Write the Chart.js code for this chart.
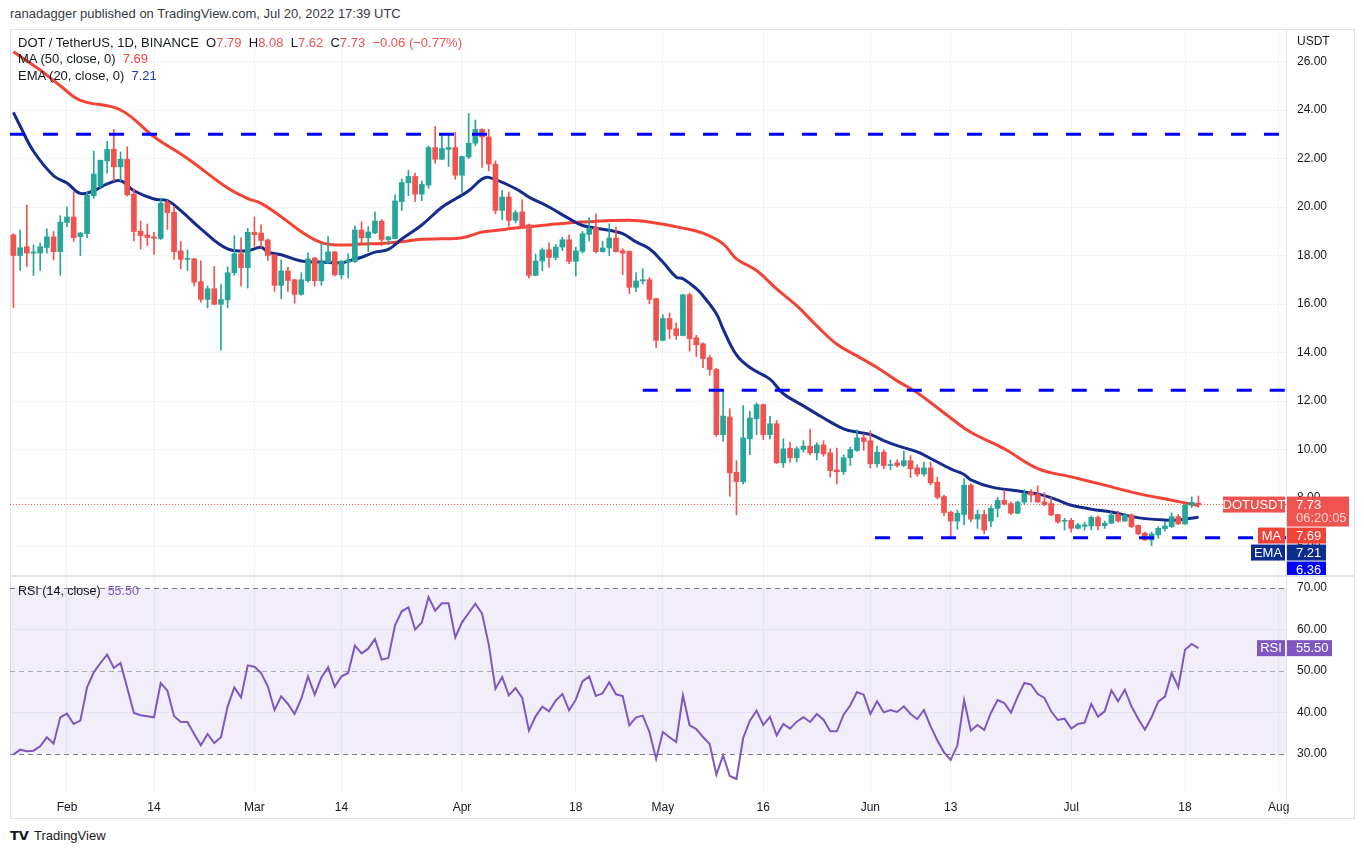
<!DOCTYPE html>
<html>
<head>
<meta charset="utf-8">
<script src="https://cdn.jsdelivr.net/npm/chart.js@4.4.0/dist/chart.umd.min.js"></script>
<style>
body { margin: 0; background: #fff; font-family: 'Liberation Sans', Arial, sans-serif; color: #131722; }
#page { position: relative; width: 1364px; height: 854px; overflow: hidden; }
.abs { position: absolute; white-space: nowrap; }
canvas { position: absolute; }
.red { color: #ef5350; }
</style>
</head>
<body>
<div id="page">
  <div class="abs" style="left:10px;top:6px;font-size:13px;color:#363a45">ranadagger published on TradingView.com, Jul 20, 2022 17:39 UTC</div>
  <div class="abs" style="left:10px;top:29px;width:1345px;height:790px;border:1px solid #e0e3eb;box-sizing:border-box"></div>

  <canvas id="priceChart" width="1344" height="546" style="left:10px;top:30px"></canvas>
  <canvas id="rsiChart" width="1344" height="241" style="left:10px;top:577px"></canvas>

  <div class="abs" style="left:10px;top:575px;width:1345px;height:2px;background:#e0e3eb"></div>
  <div class="abs" style="left:1286px;top:30px;width:1px;height:788px;background:#e0e3eb"></div>

  <div class="abs" style="left:18px;top:35px;font-size:13px">DOT / TetherUS, 1D, BINANCE&nbsp; O<span class="red">7.79</span>&nbsp; H<span class="red">8.08</span>&nbsp; L<span class="red">7.62</span>&nbsp; C<span class="red">7.73</span>&nbsp; <span class="red">−0.06 (−0.77%)</span></div>
  <div class="abs" style="left:18px;top:51px;font-size:13px">MA (50, close, 0)&nbsp; <span style="color:#f44336">7.69</span></div>
  <div class="abs" style="left:18px;top:68px;font-size:13px">EMA (20, close, 0)&nbsp; <span style="color:#1c3aa8">7.21</span></div>
  <div class="abs" style="left:1297px;top:34px;font-size:12px">USDT</div>
  <div class="abs" style="left:18px;top:584px;font-size:12.5px">RSI (14, close)&nbsp; <span style="color:#7e57c2">55.50</span></div>

  <div class="abs" style="left:10px;top:828px;font-size:13px;font-weight:bold;font-family:'DejaVu Sans'">TV</div>
  <div class="abs" style="left:34px;top:828px;font-size:13px;color:#131722">TradingView</div>
</div>

<script>
// days counted from Jan 24, 2022 (day 0) to Jul 20, 2022 (day 177)
const opens = [
  18.85, 18.0, 18.36, 18.1, 18.1, 18.33, 18.77, 18.16, 19.36, 19.59,
  18.78, 18.9, 20.47, 20.88, 21.9, 22.38, 21.66, 21.97, 20.53, 19.0,
  18.85, 18.77, 18.7, 20.19, 19.78, 18.19, 17.84, 17.86, 16.92, 16.19,
  16.63, 15.99, 16.17, 17.29, 18.07, 17.5, 18.96, 18.92, 18.64, 18.03,
  16.77, 17.36, 17.0, 16.4, 16.96, 17.9, 16.96, 17.7, 18.15, 17.2,
  17.73, 17.75, 19.05, 18.73, 18.93, 19.42, 18.66, 18.7, 20.22, 21.0,
  21.26, 20.53, 20.9, 22.45, 21.97, 22.38, 22.45, 21.31, 22.06, 22.63,
  23.2, 22.89, 21.77, 19.86, 20.41, 19.45, 19.8, 19.27, 17.18, 17.77,
  18.24, 17.92, 18.35, 18.65, 17.76, 18.17, 18.87, 19.15, 18.16, 18.31,
  18.72, 18.2, 18.17, 16.69, 16.95, 17.0, 16.22, 14.5, 15.4, 14.98,
  14.7, 16.38, 14.61, 14.36, 13.79, 13.3, 10.61, 11.34, 9.06, 8.67,
  10.44, 11.27, 11.85, 10.61, 11.06, 9.45, 10.05, 9.66, 10.0, 10.14,
  9.86, 10.19, 9.86, 9.16, 9.08, 9.66, 9.96, 10.48, 10.36, 9.41,
  9.89, 9.34, 9.45, 9.34, 9.54, 9.24, 8.99, 9.24, 8.65, 8.06,
  7.42, 7.05, 7.32, 8.53, 7.13, 7.32, 7.05, 7.57, 7.9, 7.77,
  7.37, 7.83, 8.23, 8.16, 7.84, 7.77, 7.32, 7.04, 7.08, 6.75,
  6.83, 6.85, 7.2, 6.86, 6.96, 7.32, 7.05, 7.3, 6.87, 6.55,
  6.27, 6.48, 6.74, 6.82, 7.23, 6.93, 7.71, 7.79
];
const highs = [
  18.9, 19.05, 20.08, 18.44, 18.52, 19.1, 18.99, 19.64, 20.0, 20.63,
  18.95, 20.6, 22.3, 21.93, 22.71, 23.2, 22.27, 22.49, 20.74, 19.42,
  19.3, 18.96, 20.36, 20.27, 20.03, 18.58, 18.23, 17.89, 17.78, 16.74,
  17.55, 16.8, 17.53, 18.82, 18.73, 19.12, 19.59, 19.26, 18.68, 18.05,
  17.82, 17.52, 17.02, 17.29, 18.11, 17.92, 18.5, 18.78, 18.17, 17.79,
  18.07, 19.22, 19.4, 19.2, 19.8, 19.48, 18.79, 20.5, 21.15, 21.52,
  21.4, 21.07, 22.52, 23.33, 22.96, 23.0, 23.08, 22.1, 23.86, 23.59,
  23.22, 23.2, 21.9, 20.69, 20.62, 19.85, 20.3, 19.3, 18.06, 18.31,
  18.52, 18.45, 18.76, 18.85, 18.34, 19.0, 19.56, 19.72, 18.58, 19.31,
  19.17, 18.28, 18.19, 17.29, 17.46, 17.09, 16.24, 15.56, 15.63, 15.22,
  16.4, 16.45, 14.71, 14.4, 13.88, 13.35, 12.48, 11.68, 9.54, 11.81,
  11.57, 11.92, 11.88, 11.37, 11.2, 10.44, 10.3, 10.11, 10.36, 10.83,
  10.28, 10.36, 10.03, 10.06, 9.79, 10.1, 10.81, 10.65, 10.76, 10.14,
  9.99, 9.57, 9.57, 9.94, 9.75, 9.37, 9.48, 9.48, 8.86, 8.12,
  7.47, 7.5, 8.8, 8.59, 7.5, 7.49, 7.68, 8.03, 8.33, 7.84,
  7.87, 8.35, 8.35, 8.5, 8.22, 8.02, 7.34, 7.16, 7.16, 6.96,
  7.0, 7.26, 7.26, 7.05, 7.41, 7.46, 7.37, 7.35, 6.89, 6.59,
  6.59, 6.82, 7.02, 7.39, 7.32, 7.73, 8.05, 8.08
];
const lows = [
  15.85, 17.38, 17.55, 17.18, 17.38, 18.1, 17.82, 17.18, 19.19, 18.58,
  18.0, 18.74, 20.36, 20.77, 21.4, 21.08, 21.08, 20.45, 18.6, 18.27,
  18.41, 18.04, 18.66, 19.07, 17.84, 17.45, 17.38, 16.74, 16.08, 15.84,
  15.97, 14.1, 15.84, 17.18, 16.74, 16.66, 18.34, 18.34, 17.8, 16.52,
  16.22, 16.52, 16.03, 16.36, 16.9, 16.74, 16.77, 17.67, 17.15, 17.04,
  17.08, 17.7, 18.52, 18.16, 18.9, 18.41, 18.45, 18.68, 19.85, 20.47,
  20.22, 20.26, 20.77, 21.8, 21.95, 21.67, 21.14, 20.6, 22.0, 22.52,
  21.63, 21.5, 19.72, 19.48, 19.2, 19.34, 19.18, 17.07, 17.16, 17.37,
  17.51, 17.83, 18.2, 17.66, 17.15, 18.1, 18.6, 18.1, 18.14, 18.0,
  18.14, 17.21, 16.43, 16.51, 16.82, 16.01, 14.2, 14.48, 14.57, 14.54,
  14.68, 14.05, 13.84, 13.37, 13.06, 10.54, 10.33, 8.07, 7.31, 8.58,
  9.79, 10.61, 10.41, 10.44, 9.43, 9.26, 9.48, 9.48, 9.89, 9.78,
  9.57, 9.72, 8.86, 8.58, 8.97, 9.34, 9.92, 9.96, 9.24, 9.27,
  9.2, 9.17, 9.27, 9.3, 8.84, 8.9, 8.9, 8.54, 7.96, 7.27,
  6.41, 6.71, 6.89, 7.02, 6.75, 6.52, 6.82, 7.21, 7.71, 7.32,
  7.35, 7.73, 7.84, 7.82, 7.68, 7.27, 6.96, 6.68, 6.59, 6.71,
  6.67, 6.68, 6.68, 6.75, 6.94, 7.0, 7.03, 6.78, 6.48, 6.25,
  6.03, 6.34, 6.64, 6.78, 6.91, 6.91, 7.6, 7.62
];
const closes = [
  18.0, 18.32, 18.1, 18.15, 18.36, 18.77, 18.16, 19.38, 19.59, 18.74,
  18.93, 20.49, 21.36, 21.93, 22.38, 21.66, 21.97, 20.5, 18.99, 18.82,
  18.74, 18.71, 20.16, 19.77, 18.16, 17.84, 17.87, 16.9, 16.19, 16.63,
  15.99, 16.18, 17.29, 18.07, 17.5, 18.96, 18.86, 18.62, 18.0, 16.77,
  17.36, 16.97, 16.4, 17.0, 17.86, 16.96, 17.73, 18.15, 17.2, 17.77,
  17.82, 19.05, 18.73, 18.97, 19.42, 18.66, 18.77, 20.25, 21.01, 21.26,
  20.53, 20.93, 22.45, 21.97, 22.41, 22.45, 21.31, 22.08, 22.63, 23.2,
  22.89, 21.77, 19.86, 20.41, 19.45, 19.77, 19.2, 17.18, 17.77, 18.23,
  17.92, 18.35, 18.65, 17.76, 18.19, 18.9, 19.11, 18.16, 18.31, 18.72,
  18.16, 18.1, 16.69, 16.95, 17.0, 16.19, 14.5, 15.4, 14.96, 14.7,
  16.38, 14.57, 14.32, 13.75, 13.3, 10.61, 11.38, 9.03, 8.68, 10.48,
  11.3, 11.85, 10.61, 11.06, 9.45, 10.03, 9.66, 10.03, 10.14, 9.86,
  10.19, 9.82, 9.13, 9.08, 9.66, 10.0, 10.48, 10.33, 9.41, 9.89,
  9.34, 9.38, 9.34, 9.54, 9.2, 8.99, 9.24, 8.62, 8.03, 7.4,
  7.05, 7.37, 8.53, 7.13, 7.32, 6.68, 7.57, 7.9, 7.75, 7.37,
  7.83, 8.18, 8.12, 7.83, 7.73, 7.3, 7.01, 7.07, 6.75, 6.89,
  6.89, 7.2, 6.85, 6.96, 7.3, 7.05, 7.3, 6.82, 6.52, 6.27,
  6.52, 6.75, 6.85, 7.23, 6.93, 7.71, 7.82, 7.73
];

// MA(50) and EMA(20) at these days
const maDays = [0, 4, 7, 10, 16, 21, 26, 32, 35, 37, 40, 43, 46, 49, 52, 55, 58, 61, 64, 67, 70, 72, 75, 80, 85, 92, 95, 100, 103, 106, 108, 111, 114, 117, 120, 123, 126, 129, 132, 135, 140, 143, 148, 153, 158, 163, 168, 173, 177];
const maValues = [26.4, 25.65, 25.0, 24.4, 24.0, 22.9, 22.0, 20.78, 20.35, 20.15, 19.6, 18.98, 18.53, 18.43, 18.47, 18.5, 18.57, 18.67, 18.69, 18.73, 18.97, 19.03, 19.13, 19.27, 19.38, 19.45, 19.38, 19.13, 18.92, 18.48, 17.86, 17.38, 16.62, 15.93, 15.1, 14.34, 13.86, 13.38, 12.83, 12.34, 11.3, 10.71, 10.03, 9.21, 8.87, 8.53, 8.18, 7.91, 7.69];
const emaDays = [0, 1, 3, 6, 8, 10, 12, 14, 16, 18, 21, 23, 25, 28, 32, 35, 37, 38, 40, 43, 46, 49, 50, 52, 54, 56, 58, 61, 64, 66, 68, 70, 71, 75, 77, 80, 83, 85, 89, 91, 93, 95, 97, 99, 100, 102, 103, 105, 106, 108, 110, 113, 115, 118, 121, 124, 126, 128, 130, 132, 135, 137, 140, 142, 143, 146, 151, 154, 156, 158, 161, 164, 167, 169, 172, 174, 177];
const emaValues = [23.9, 23.34, 22.3, 21.29, 20.99, 20.56, 20.67, 20.95, 21.08, 20.67, 20.33, 20.26, 19.85, 19.1, 18.27, 18.2, 18.34, 18.14, 18.03, 17.77, 17.73, 17.7, 17.77, 17.93, 18.14, 18.25, 18.68, 19.26, 19.99, 20.33, 20.67, 21.15, 21.22, 20.76, 20.41, 20.0, 19.52, 19.24, 19.04, 18.9, 18.56, 18.28, 17.73, 17.11, 17.04, 16.63, 16.34, 15.6, 14.97, 13.9, 13.38, 12.9, 12.3, 11.8, 11.3, 10.85, 10.72, 10.62, 10.37, 10.16, 9.9, 9.63, 9.2, 8.97, 8.75, 8.46, 8.25, 8.1, 7.91, 7.7, 7.54, 7.42, 7.24, 7.15, 7.09, 7.09, 7.21];

// RSI(14), one value per day
const rsiValues = [
  29.84, 31.04, 30.64, 30.8, 31.85, 34.02, 32.49, 38.84, 39.72, 37.23,
  38.03, 46.06, 49.68, 51.93, 53.94, 50.72, 51.93, 45.9, 39.88, 39.32,
  39.08, 38.84, 47.11, 45.26, 39.08, 37.71, 37.71, 34.82, 32.09, 34.82,
  32.65, 34.02, 41.49, 46.06, 43.65, 51.37, 51.04, 49.52, 46.31, 40.6,
  43.9, 42.05, 39.64, 43.33, 48.71, 44.3, 48.47, 50.88, 46.22, 48.71,
  49.52, 56.1, 54.26, 55.38, 57.71, 52.73, 53.13, 61.0, 64.38, 65.34,
  59.96, 61.7, 67.83, 64.54, 66.31, 66.31, 58.11, 61.73, 63.98, 66.22,
  63.82, 56.35, 45.74, 48.55, 44.14, 45.9, 43.49, 35.62, 39.08, 41.41,
  40.28, 42.85, 44.46, 40.52, 43.09, 47.51, 48.71, 43.98, 44.62, 47.27,
  44.38, 43.98, 36.91, 38.84, 39.24, 35.3, 28.8, 35.3, 34.02, 32.89,
  44.14, 36.91, 36.02, 34.1, 32.41, 25.02, 29.68, 24.7, 23.98, 33.86,
  38.03, 40.44, 36.99, 38.92, 34.5, 37.23, 36.1, 37.79, 38.84, 37.71,
  39.64, 38.27, 35.46, 35.46, 39.48, 41.73, 44.94, 44.3, 39.64, 42.69,
  40.04, 40.6, 40.12, 41.49, 39.64, 38.43, 40.6, 36.67, 33.29, 30.4,
  28.55, 32.09, 43.01, 35.62, 36.99, 35.78, 39.88, 43.01, 42.29, 39.96,
  43.82, 47.11, 46.71, 44.46, 43.49, 40.28, 38.19, 38.51, 36.1, 37.23,
  37.55, 42.05, 39.0, 40.28, 45.34, 42.69, 45.5, 41.49, 38.51, 35.86,
  38.84, 42.61, 43.82, 49.52, 46.06, 55.14, 56.51, 55.5
];

// horizontal levels drawn on the chart
const levelValues = [23.0, 12.44, 6.36];
const levelStartDays = [-0.51, 94, 128.7];
const lastPrice = 7.73;

// x axis ticks
const tickDays = [8, 21, 36, 49, 67, 84, 97, 112, 128, 140, 158, 175, 189];
const tickLabels = ['Feb', '14', 'Mar', '14', 'Apr', '18', 'May', '16', 'Jun', '13', 'Jul', '18', 'Aug'];
const priceTicks = [6, 8, 10, 12, 14, 16, 18, 20, 22, 24, 26];
const rsiTicks = [30, 40, 50, 60, 70];

const X_MIN = -0.51, X_MAX = 190.08;
const UP = '#26a69a', DOWN = '#ef5350';
const GRID = '#f0f3fa';

Chart.defaults.font.family = "'Liberation Sans', Arial, sans-serif";
Chart.defaults.font.size = 12;
Chart.defaults.color = '#131722';

const candleColors = closes.map((c, i) => c >= opens[i] ? UP : DOWN);
const wickData = closes.map((c, i) => ({ x: i, y: [lows[i], highs[i]] }));
const bodyData = closes.map((c, i) => ({ x: i, y: [opens[i], c] }));

function noPad(scale) {
    scale.paddingTop = 0;
    scale.paddingBottom = 0;
    scale.paddingLeft = 0;
    scale.paddingRight = 0;
}

// price / indicator tags on the right axis
const tagPlugin = {
    id: 'tags',
    afterDraw(chart, args, opts) {
        const ctx = chart.ctx;
        const yScale = chart.scales.y;
        const right = chart.chartArea.right;
        let prevBottom = -1000;
        ctx.save();
        opts.items.forEach(t => {
            const py = yScale.getPixelForValue(t.value);
            const h = t.sub ? 30 : 16;
            const top = Math.max(py - 8, prevBottom + 1);
            ctx.fillStyle = t.color;
            if (t.label) {
                ctx.fillRect(right - t.lw - 1, top, t.lw, 16);
            }
            ctx.fillRect(right, top, t.vw, h);
            ctx.fillStyle = '#fff';
            ctx.font = "13px 'Liberation Sans', Arial, sans-serif";
            ctx.textBaseline = 'middle';
            if (t.label) {
                ctx.textAlign = 'center';
                ctx.fillText(t.label, right - t.lw / 2 - 1, top + 8.5);
            }
            ctx.textAlign = 'left';
            ctx.fillText(t.value.toFixed(2), right + 10, top + 8.5);
            if (t.sub) {
                ctx.globalAlpha = 0.75;
                ctx.fillText(t.sub, right + 10, top + 22);
                ctx.globalAlpha = 1;
            }
            prevBottom = top + h;
        });
        ctx.restore();
    }
};

// purple band and dashed guide lines of the RSI panel
const rsiBandPlugin = {
    id: 'rsiBand',
    beforeDatasetsDraw(chart) {
        const ctx = chart.ctx;
        const y = chart.scales.y;
        const area = chart.chartArea;
        const y70 = y.getPixelForValue(70), y30 = y.getPixelForValue(30), y50 = y.getPixelForValue(50);
        ctx.save();
        ctx.fillStyle = 'rgba(126, 87, 194, 0.1)';
        ctx.fillRect(area.left, y70, area.right - area.left, y30 - y70);
        ctx.lineWidth = 1;
        ctx.setLineDash([5, 4]);
        [[y70, '#787b86'], [y30, '#787b86'], [y50, 'rgba(120,123,134,0.6)']].forEach(([py, col]) => {
            ctx.strokeStyle = col;
            ctx.beginPath();
            ctx.moveTo(area.left, Math.round(py) + 0.5);
            ctx.lineTo(area.right, Math.round(py) + 0.5);
            ctx.stroke();
        });
        ctx.restore();
    }
};

const levelDatasets = levelValues.map((v, i) => ({
    type: 'line',
    data: [{ x: levelStartDays[i], y: v }, { x: X_MAX, y: v }],
    borderColor: '#0000ff',
    borderWidth: 3,
    borderDash: [15, 18],
    pointRadius: 0,
    order: 1
}));

new Chart(document.getElementById('priceChart'), {
    type: 'bar',
    data: {
        datasets: [
            {
                type: 'line',
                data: [{ x: X_MIN, y: lastPrice }, { x: X_MAX, y: lastPrice }],
                borderColor: DOWN,
                borderWidth: 1,
                borderDash: [1, 2],
                pointRadius: 0,
                order: 10
            },
            {
                type: 'line',
                data: maDays.map((d, i) => ({ x: d, y: maValues[i] })),
                borderColor: '#f44336',
                borderWidth: 3,
                pointRadius: 0,
                tension: 0.4,
                order: 8
            },
            {
                type: 'line',
                data: emaDays.map((d, i) => ({ x: d, y: emaValues[i] })),
                borderColor: '#132c8e',
                borderWidth: 3,
                pointRadius: 0,
                tension: 0.4,
                order: 7
            },
            {
                data: wickData,
                backgroundColor: candleColors,
                barThickness: 1,
                grouped: false,
                order: 6
            },
            {
                data: bodyData,
                backgroundColor: candleColors,
                barThickness: 5,
                minBarLength: 1,
                grouped: false,
                order: 5
            },
            ...levelDatasets
        ]
    },
    options: {
        responsive: false,
        animation: false,
        events: [],
        layout: { padding: 0 },
        plugins: {
            legend: { display: false },
            tooltip: { enabled: false },
            tags: {
                items: [
                    { label: 'DOTUSDT', value: 7.73, sub: '06:20:05', color: '#ef5350', lw: 62, vw: 63 },
                    { label: 'MA', value: 7.69, color: '#f44336', lw: 27, vw: 40 },
                    { label: 'EMA', value: 7.21, color: '#0d2d8e', lw: 34, vw: 40 },
                    { label: null, value: 6.36, color: '#0000ff', vw: 40 }
                ]
            }
        },
        scales: {
            x: {
                type: 'linear',
                min: X_MIN,
                max: X_MAX,
                offset: false,
                grid: { color: GRID, offset: false, drawTicks: false },
                border: { display: false },
                ticks: { display: false },
                afterBuildTicks: s => { s.ticks = tickDays.map(v => ({ value: v })); },
                afterFit: s => { s.height = 0; noPad(s); }
            },
            y: {
                position: 'right',
                min: 4.784,
                max: 27.299,
                beginAtZero: false,
                grid: { color: GRID, drawTicks: false },
                border: { display: false },
                ticks: { padding: 11, font: { size: 12 }, callback: v => v.toFixed(2) },
                afterBuildTicks: s => { s.ticks = priceTicks.map(v => ({ value: v })); },
                afterFit: s => { s.width = 68; noPad(s); }
            }
        }
    },
    plugins: [tagPlugin]
});

new Chart(document.getElementById('rsiChart'), {
    type: 'line',
    data: {
        datasets: [{
            data: rsiValues.map((v, i) => ({ x: i, y: v })),
            borderColor: '#7e57c2',
            borderWidth: 2,
            pointRadius: 0,
            tension: 0
        }]
    },
    options: {
        responsive: false,
        animation: false,
        events: [],
        layout: { padding: 0 },
        plugins: {
            legend: { display: false },
            tooltip: { enabled: false },
            tags: {
                items: [{ label: 'RSI', value: 55.5, color: '#7e57c2', lw: 28, vw: 46 }]
            }
        },
        scales: {
            x: {
                type: 'linear',
                min: X_MIN,
                max: X_MAX,
                grid: { color: GRID, drawTicks: false },
                border: { display: false },
                ticks: {
                    padding: 8,
                    maxRotation: 0,
                    autoSkip: false,
                    font: { size: 12 },
                    callback: v => tickLabels[tickDays.indexOf(v)]
                },
                afterBuildTicks: s => { s.ticks = tickDays.map(v => ({ value: v })); },
                afterFit: s => { s.height = 26; noPad(s); }
            },
            y: {
                position: 'right',
                min: 20.84,
                max: 72.65,
                grid: {
                    drawTicks: false,
                    color: c => (c.tick && (c.tick.value === 40 || c.tick.value === 60)) ? GRID : 'rgba(0,0,0,0)'
                },
                border: { display: false },
                ticks: { padding: 11, font: { size: 12 }, callback: v => v.toFixed(2) },
                afterBuildTicks: s => { s.ticks = rsiTicks.map(v => ({ value: v })); },
                afterFit: s => { s.width = 68; noPad(s); }
            }
        }
    },
    plugins: [tagPlugin, rsiBandPlugin]
});
</script>
</body>
</html>
